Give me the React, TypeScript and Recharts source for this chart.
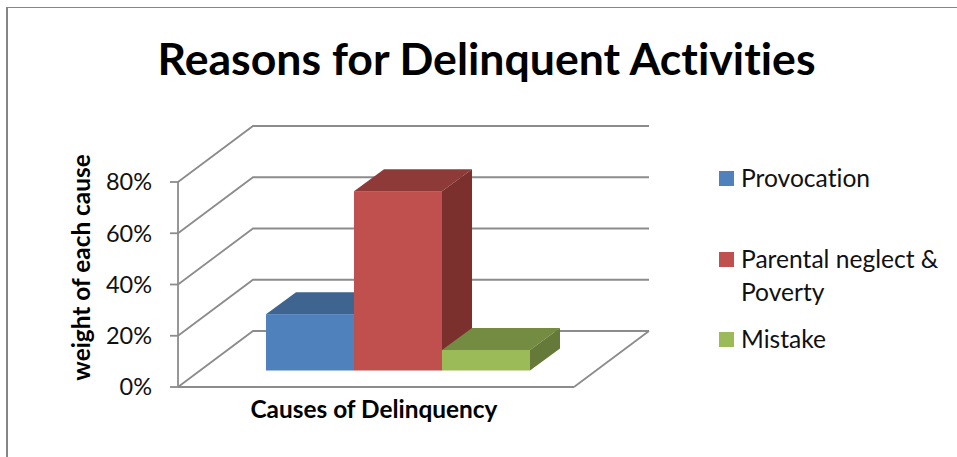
import React from 'react';
import { BarChart, Bar, XAxis, YAxis, CartesianGrid, Legend } from 'recharts';

const categories = ['Causes of Delinquency'];
const provocation = [22];
const parentalNeglect = [70];
const mistake = [8];
const yTicks = [0, 20, 40, 60, 80];

const data = categories.map((name, i) => ({
    name,
    provocation: provocation[i],
    parentalNeglect: parentalNeglect[i],
    mistake: mistake[i],
}));

const FONT = 'Lato, sans-serif';
const LINE = '#8c8c8c';

// depth of the back wall, and where the bars stand on the floor
const WALL_DX = 75;
const WALL_DY = -56;
const BAR_OFFSET_X = 22;
const BAR_OFFSET_Y = -16.5;
const BAR_DX = 30;
const BAR_DY = -22;

// One gridline: front edge up to the back wall, then along it
const WallLine = (props: any) => {
    const { x1, x2, y1 } = props;
    const isFloor = y1 > 380;
    const bx = x1 + WALL_DX;
    const by = y1 + WALL_DY;
    return (
        <g>
            <polyline points={`${x1},${y1} ${bx},${by} ${x2 + WALL_DX},${by}`} fill="none" stroke={LINE} strokeWidth={1.8} />
            {isFloor && <line x1={x2} y1={y1} x2={x2 + WALL_DX} y2={by} stroke={LINE} strokeWidth={1.8} />}
        </g>
    );
};

// Bar drawn as a box: front face, top and right side
const Box3D = (props: any) => {
    const { x, y, width, height, fill, topFill, sideFill } = props;
    const l = x + BAR_OFFSET_X;
    const r = l + width;
    const t = y + BAR_OFFSET_Y;
    const b = t + height;
    return (
        <g>
            <polygon points={`${l},${t} ${l + BAR_DX},${t + BAR_DY} ${r + BAR_DX},${t + BAR_DY} ${r},${t}`} fill={topFill} />
            <polygon points={`${r},${t} ${r + BAR_DX},${t + BAR_DY} ${r + BAR_DX},${b + BAR_DY} ${r},${b}`} fill={sideFill} />
            <rect x={l} y={t} width={width} height={height} fill={fill} />
        </g>
    );
};

const legendTops = [161, 242, 322];

const LegendList = ({ payload }: any) => (
    <div style={{ position: 'relative', width: 238, fontFamily: FONT, fontSize: 24.6, lineHeight: '33px', color: '#111', fontVariantLigatures: 'none' }}>
        {(payload || []).map((item: any, i: number) => (
            <div key={item.value} style={{ position: 'absolute', top: legendTops[i], left: 22, width: 216 }}>
                <span style={{ position: 'absolute', left: -22, top: 10, width: 15, height: 15, background: item.color }} />
                {item.value}
            </div>
        ))}
    </div>
);

const App = () => (
    <div style={{ position: 'absolute', left: 0, top: 0, width: 957, height: 457, background: '#fff', overflow: 'hidden' }}>
        <div style={{ position: 'absolute', left: 6, top: 7, right: 0, bottom: 0, borderLeft: '2px solid #868686', borderTop: '1px solid #868686' }} />
        <BarChart
            width={957}
            height={457}
            data={data}
            margin={{ top: 182, right: 383, bottom: 0, left: 0 }}
            barSize={88}
            barGap={0}
            style={{ position: 'absolute', left: 0, top: 0 }}
        >
            <text x={486.5} y={75} textAnchor="middle" fontFamily={FONT} fontWeight={700} fontSize={44.6} fill="#000" style={{ fontVariantLigatures: 'none' }}>
                Reasons for Delinquent Activities
            </text>
            <CartesianGrid vertical={false} horizontal={(p: any) => <WallLine key={p.key} {...p} />} />
            <XAxis
                dataKey="name"
                height={70}
                tick={false}
                tickLine={false}
                axisLine={{ stroke: LINE, strokeWidth: 1.8 }}
                label={{ value: categories[0], position: 'insideBottom', dx: -2, dy: -34, fontFamily: FONT, fontWeight: 700, fontSize: 24.4, fill: '#000' }}
            />
            <YAxis
                width={178}
                domain={[0, 80]}
                ticks={yTicks}
                tickFormatter={(v: number) => `${v}%`}
                tickSize={8}
                tickMargin={18}
                tick={{ fontFamily: FONT, fontSize: 23.5, fill: '#111' }}
                tickLine={{ stroke: LINE, strokeWidth: 1.8 }}
                axisLine={{ stroke: LINE, strokeWidth: 1.8 }}
                label={{ value: 'weight of each cause', angle: -90, position: 'insideLeft', dx: 76, dy: -17, fontFamily: FONT, fontWeight: 700, fontSize: 24.4, fill: '#000', style: { textAnchor: 'middle' } }}
            />
            <Legend layout="vertical" align="center" verticalAlign="middle" itemSorter={null} wrapperStyle={{ left: 719, top: 0, width: 238 }} content={<LegendList />} />
            <Bar dataKey="provocation" name="Provocation" fill="#4F81BD" isAnimationActive={false} shape={<Box3D topFill="#3E648F" sideFill="#365A85" />} />
            <Bar dataKey="parentalNeglect" name="Parental neglect & Poverty" fill="#C0504D" isAnimationActive={false} shape={<Box3D topFill="#8E3A38" sideFill="#7B302E" />} />
            <Bar dataKey="mistake" name="Mistake" fill="#9BBB59" isAnimationActive={false} shape={<Box3D topFill="#748C42" sideFill="#657A39" />} />
        </BarChart>
    </div>
);

export default App;
